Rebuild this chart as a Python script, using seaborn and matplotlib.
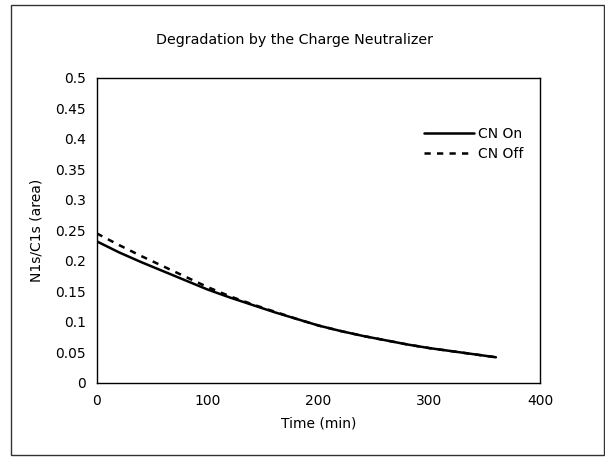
import matplotlib
matplotlib.use("Agg")
import matplotlib.pyplot as plt
import seaborn as sns
import pandas as pd

# data
time_on = [0, 20, 40, 60, 80, 100, 120, 140, 160, 180, 200, 220, 240, 260, 280, 300, 320, 340, 360]
cn_on = [0.232, 0.214, 0.198, 0.183, 0.168, 0.153, 0.140, 0.128, 0.116, 0.105,
         0.094, 0.085, 0.077, 0.070, 0.063, 0.057, 0.052, 0.047, 0.042]
time_off = [0, 20, 40, 60, 80, 100, 120, 140, 160, 180, 200, 220, 240, 260, 280, 300, 320, 340, 360]
cn_off = [0.245, 0.226, 0.208, 0.191, 0.174, 0.157, 0.142, 0.129, 0.117, 0.105,
          0.094, 0.085, 0.077, 0.070, 0.063, 0.057, 0.052, 0.047, 0.042]

df = pd.concat([
    pd.DataFrame({"time": time_on, "ratio": cn_on, "series": "CN On"}),
    pd.DataFrame({"time": time_off, "ratio": cn_off, "series": "CN Off"}),
])

sns.set_style("white")
plt.rcParams["font.family"] = ["DejaVu Sans"]
plt.rcParams["text.color"] = "black"
plt.rcParams["axes.labelcolor"] = "black"
plt.rcParams["xtick.color"] = "black"
plt.rcParams["ytick.color"] = "black"

fig = plt.figure(figsize=(6.05, 4.58), dpi=100)
ax = fig.add_axes([0.160, 0.164, 0.733, 0.666])

sns.lineplot(data=df, x="time", y="ratio", style="series",
             dashes={"CN On": "", "CN Off": (2.5, 2.5)},
             color="black", linewidth=1.8, ax=ax)

ax.set_xlim(0, 400)
ax.set_ylim(0, 0.5)
ax.set_xticks([0, 100, 200, 300, 400])
ax.set_yticks([i * 0.05 for i in range(11)])
ax.set_yticklabels(["0", "0.05", "0.1", "0.15", "0.2", "0.25", "0.3",
                    "0.35", "0.4", "0.45", "0.5"])
ax.tick_params(direction="in", length=4, width=0.8, labelsize=10, pad=8)
ax.set_xlabel("Time (min)", fontsize=10, labelpad=6)
ax.set_ylabel("N1s/C1s (area)", fontsize=10, labelpad=8)
for sp in ax.spines.values():
    sp.set_color("black")
    sp.set_linewidth(1.0)

leg = ax.legend(loc="upper right", bbox_to_anchor=(0.99, 0.88), frameon=False,
                fontsize=10, handlelength=3.6, handletextpad=0.3, labelspacing=0.4)

fig.text(0.486, 0.912, "Degradation by the Charge Neutralizer", ha="center",
         va="center", fontsize=10.3)

# outer border
fig.patches.append(plt.Rectangle((0.018, 0.006), 0.98, 0.984, transform=fig.transFigure,
                                 fill=False, edgecolor="#333333", linewidth=1.0))

fig.savefig("out.png", dpi=100)
